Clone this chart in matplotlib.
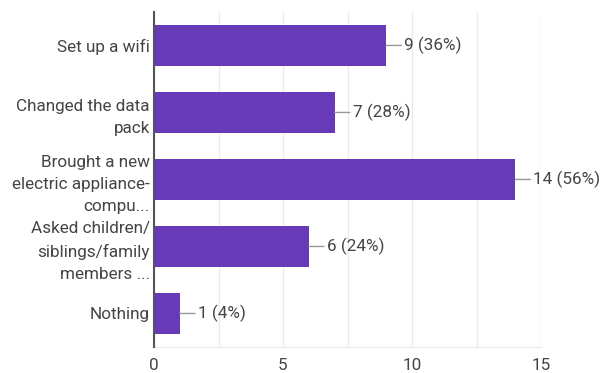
import numpy as np
import matplotlib.pyplot as plt

# Responses: what people did to stay connected
categories = [
    "Set up a wifi",
    "Changed the data\npack",
    "Brought a new\nelectric appliance-\ncompu...",
    "Asked children/\nsiblings/family\nmembers ...",
    "Nothing",
]
counts = [9, 7, 14, 6, 1]
percents = [36, 28, 56, 24, 4]

bar_color = "#673ab7"
text_color = "#444444"
fs = 12.3

plt.rcParams["font.family"] = ["Roboto", "DejaVu Sans"]

fig = plt.figure(figsize=(6.03, 3.73), dpi=100)
ax = fig.add_axes([0.2554, 0.0697, 0.6418, 0.8983])

y = np.arange(len(categories))
ax.barh(y, counts, height=0.61, color=bar_color, zorder=3)

ax.set_xlim(0, 15)
ax.set_ylim(len(categories) - 0.5, -0.5)

# value labels with a short leader line
for yi, c, p in zip(y, counts, percents):
    ax.annotate(
        f"{c} ({p}%)",
        xy=(c, yi),
        xytext=(18, 0),
        textcoords="offset pixels",
        va="center",
        ha="left",
        fontsize=fs,
        color=text_color,
        arrowprops=dict(arrowstyle="-", color="#999999", lw=1, shrinkA=0, shrinkB=0),
        zorder=4,
    )

ax.set_yticks(y)
ax.set_yticklabels(categories, fontsize=fs, color=text_color, linespacing=1.6)
ax.set_xticks([0, 5, 10, 15])
ax.set_xticklabels(["0", "5", "10", "15"], fontsize=fs, color=text_color)
ax.set_xticks(np.arange(0, 15.1, 2.5), minor=True)

ax.tick_params(axis="both", which="both", length=0)
ax.tick_params(axis="y", pad=3)
ax.tick_params(axis="x", pad=8)

ax.grid(axis="x", which="both", color="#ebebeb", lw=1, zorder=0)

for side in ["top", "right"]:
    ax.spines[side].set_visible(False)
ax.spines["bottom"].set_color("#ebebeb")
ax.spines["left"].set_color("#555555")
ax.spines["left"].set_linewidth(1.5)
ax.spines["left"].set_zorder(5)

fig.savefig("out.png", dpi=100)
